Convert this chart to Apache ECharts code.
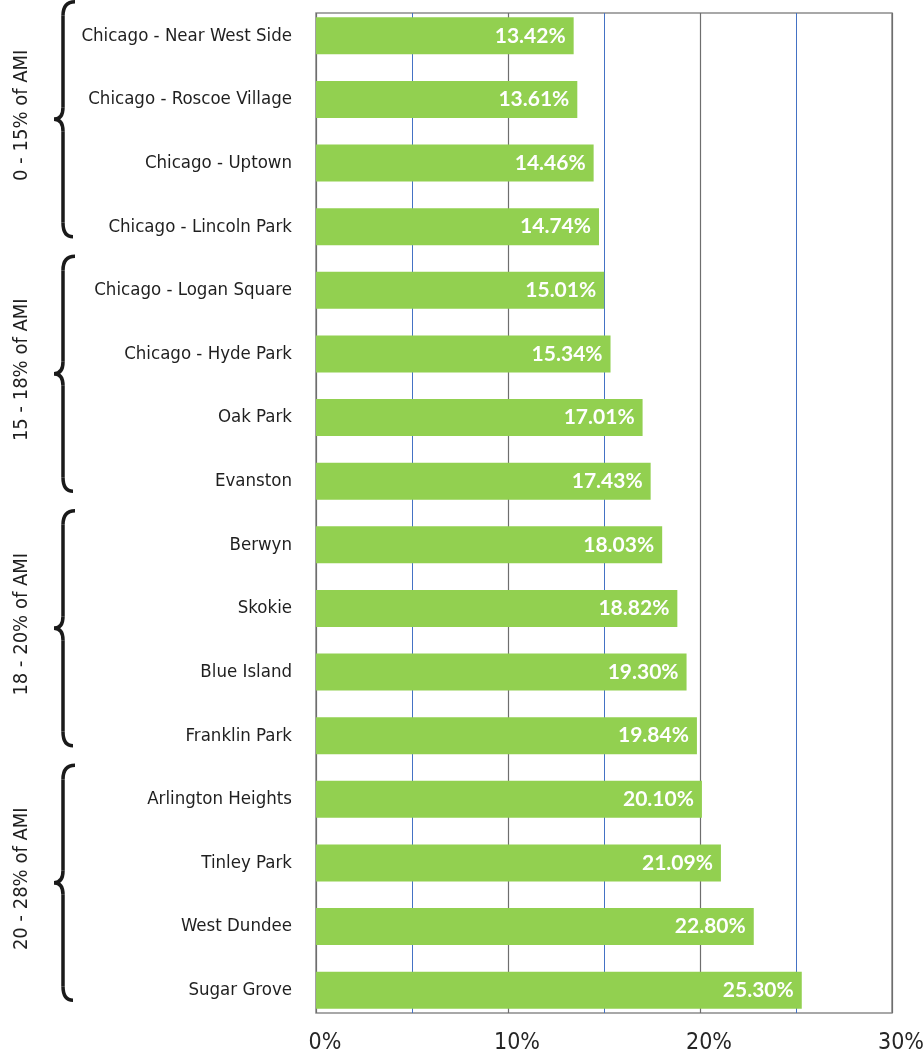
<!DOCTYPE html>
<html>
<head>
<meta charset="utf-8">
<script src="https://cdn.jsdelivr.net/npm/echarts@6/dist/echarts.min.js"></script>
<style>
  html, body { margin: 0; padding: 0; background: #fff; }
  #main { width: 924px; height: 1055px; }
</style>
</head>
<body>
<div id="main"></div>
<script>
// data
var places = [
    'Chicago - Near West Side', 'Chicago - Roscoe Village', 'Chicago - Uptown', 'Chicago - Lincoln Park',
    'Chicago - Logan Square', 'Chicago - Hyde Park', 'Oak Park', 'Evanston',
    'Berwyn', 'Skokie', 'Blue Island', 'Franklin Park',
    'Arlington Heights', 'Tinley Park', 'West Dundee', 'Sugar Grove'
];
var shares = [13.42, 13.61, 14.46, 14.74, 15.01, 15.34, 17.01, 17.43,
              18.03, 18.82, 19.30, 19.84, 20.10, 21.09, 22.80, 25.30];
var groupNames = ['0 - 15% of AMI', '15 - 18% of AMI', '18 - 20% of AMI', '20 - 28% of AMI'];
var groupSizes = [4, 4, 4, 4];

// pick the narrowest installed font and size it so the longest label is ~210px wide
function pickFont(cands, sample, target) {
    var ctx = document.createElement('canvas').getContext('2d');
    for (var i = 0; i < cands.length; i++) {
        ctx.font = '100px monospace';
        var w0 = ctx.measureText(sample).width;
        ctx.font = '100px "' + cands[i] + '", monospace';
        var w1 = ctx.measureText(sample).width;
        if (Math.abs(w1 - w0) > 0.5) {
            return { family: '"' + cands[i] + '"', size: Math.round(100 * target / w1 * 2) / 2 };
        }
    }
    return { family: 'sans-serif', size: 20 };
}

var narrow = pickFont(['Liberation Sans Narrow', 'DejaVu Sans Condensed', 'Roboto', 'Liberation Sans'],
    'Chicago - Near West Side', 212);
var labelFont = narrow.family + ', sans-serif';
var catSize = narrow.size;
var groupSize = Math.round(catSize * 1.08);

var myChart = echarts.init(document.getElementById('main'));

var option = {
    animation: false,
    backgroundColor: '#fff',
    grid: [
        // frame + x axis
        { left: 316, right: 32, top: 13, bottom: 42, outerBoundsMode: 'none',
          show: true, borderColor: '#8c8c8c', borderWidth: 1.5 },
        // bars (band slightly taller than the frame, like the original)
        { left: 316, right: 32, top: 4, bottom: 33, outerBoundsMode: 'none' }
    ],
    xAxis: [
        {
            gridIndex: 0, type: 'value', min: 0, max: 30, interval: 10,
            axisLine: { show: false },
            axisTick: { show: false },
            axisLabel: {
                formatter: '{value}%', fontFamily: labelFont, fontSize: Math.round(catSize * 1.25),
                color: '#262626', margin: 19, padding: [0, 0, 0, 18]
            },
            splitLine: { lineStyle: { color: '#6e6e6e', width: 1.2 } },
            minorTick: { show: false, splitNumber: 2 },
            minorSplitLine: { show: true, lineStyle: { color: '#4472C4', width: 1 } }
        },
        { gridIndex: 1, type: 'value', min: 0, max: 30, show: false }
    ],
    yAxis: [
        { gridIndex: 0, type: 'value', show: false },
        {
            gridIndex: 1, type: 'category', data: places, inverse: true,
            axisLine: { show: false },
            axisTick: { show: false },
            axisLabel: {
                fontFamily: labelFont, fontSize: catSize, color: '#1f1f1f', margin: 24
            }
        }
    ],
    series: [
        {
            type: 'bar',
            xAxisIndex: 1,
            yAxisIndex: 1,
            data: shares,
            barWidth: 37,
            itemStyle: { color: '#92D050' },
            label: {
                show: true,
                position: 'insideRight',
                distance: 8,
                color: '#fff',
                fontFamily: 'Lato, "Open Sans", sans-serif',
                fontWeight: 'bold',
                fontSize: 21,
                formatter: function (p) { return p.value.toFixed(2) + '%'; }
            }
        }
    ]
};

myChart.setOption(option);

// group braces and labels on the left
function braceGraphics() {
    var out = [];
    var start = 0;
    var st = { stroke: '#1a1a1a', lineWidth: 3.5, fill: null };
    for (var g = 0; g < groupNames.length; g++) {
        var first = start, last = start + groupSizes[g] - 1;
        var yTop = myChart.convertToPixel({ yAxisIndex: 1 }, first) - 34;
        var yBot = myChart.convertToPixel({ yAxisIndex: 1 }, last) + 10;
        var mid = (yTop + yBot) / 2;
        var xe = 75, xs = 63, xp = 54;
        out.push({ type: 'bezierCurve', shape: { x1: xe, y1: yTop, x2: xs, y2: yTop + 14, cpx1: xs, cpy1: yTop }, style: st });
        out.push({ type: 'line', shape: { x1: xs, y1: yTop + 14, x2: xs, y2: mid - 12 }, style: st });
        out.push({ type: 'bezierCurve', shape: { x1: xs, y1: mid - 12, x2: xp, y2: mid, cpx1: xs, cpy1: mid }, style: st });
        out.push({ type: 'bezierCurve', shape: { x1: xp, y1: mid, x2: xs, y2: mid + 12, cpx1: xs, cpy1: mid }, style: st });
        out.push({ type: 'line', shape: { x1: xs, y1: mid + 12, x2: xs, y2: yBot - 14 }, style: st });
        out.push({ type: 'bezierCurve', shape: { x1: xs, y1: yBot - 14, x2: xe - 2, y2: yBot, cpx1: xs, cpy1: yBot }, style: st });
        out.push({
            type: 'text',
            x: 22, y: mid - 4,
            rotation: Math.PI / 2,
            style: {
                text: groupNames[g], fill: '#1f1f1f',
                font: groupSize + 'px ' + labelFont,
                align: 'center', verticalAlign: 'middle'
            }
        });
        start += groupSizes[g];
    }
    return out;
}

myChart.setOption({ graphic: braceGraphics() });
</script>
</body>
</html>
